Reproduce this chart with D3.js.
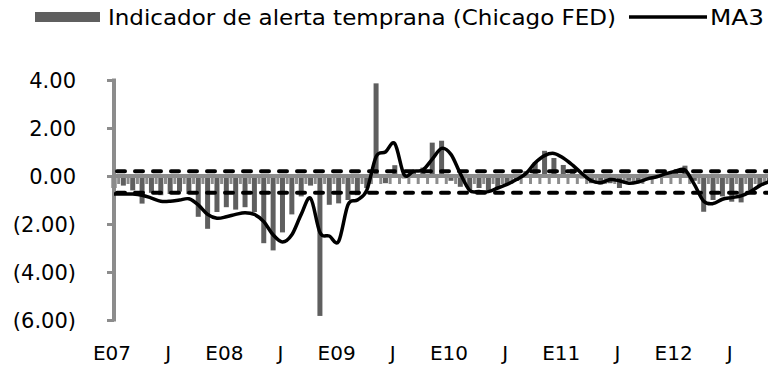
<!DOCTYPE html>
<html><head><meta charset="utf-8">
<script src="https://cdn.jsdelivr.net/npm/d3@7"></script>
<style>html,body{margin:0;padding:0;background:#fff;}svg{display:block;}</style>
</head><body>
<svg id="c" width="768" height="376"></svg>
<script>
const months = ["E07","F07","M07","A07","M07","J07","J07","A07","S07","O07","N07","D07",
"E08","F08","M08","A08","M08","J08","J08","A08","S08","O08","N08","D08",
"E09","F09","M09","A09","M09","J09","J09","A09","S09","O09","N09","D09",
"E10","F10","M10","A10","M10","J10","J10","A10","S10","O10","N10","D10",
"E11","F11","M11","A11","M11","J11","J11","A11","S11","O11","N11","D11",
"E12","F12","M12","A12","M12","J12","J12","A12","S12","O12","N12"];
const tickLabels = ["E07","J","E08","J","E09","J","E10","J","E11","J","E12","J"];
const indicador = [-0.5,-0.4,-0.6,-1.15,-0.7,-0.8,-0.75,-0.65,-0.75,-1.7,-2.2,-1.5,
-1.3,-1.4,-1.3,-1.5,-2.8,-3.1,-2.35,-1.6,-0.85,-0.4,-5.83,-1.2,
-1.14,-1.0,-0.8,-0.5,3.86,-0.3,0.45,-0.1,0.25,0.35,1.39,1.47,
-0.2,-0.45,-0.6,-0.5,-0.6,-0.5,-0.35,-0.2,0.2,0.57,1.05,0.75,
0.46,0.3,-0.1,-0.3,-0.35,-0.3,-0.5,-0.2,-0.3,-0.1,0.0,0.15,
0.25,0.43,-0.2,-1.49,-1.0,-0.85,-1.07,-1.1,-0.6,-0.4,-0.3];
const ma3 = [-0.75,-0.75,-0.75,-0.8,-0.92,-1.05,-1.05,-1.0,-0.95,-1.2,-1.6,-1.76,
-1.7,-1.6,-1.53,-1.6,-1.9,-2.45,-2.75,-2.45,-1.6,-0.93,-2.35,-2.5,
-2.72,-1.2,-1.0,-0.6,0.8,1.0,1.35,0.05,0.2,0.25,0.7,1.15,
0.9,0.1,-0.6,-0.65,-0.65,-0.5,-0.35,-0.15,0.1,0.55,0.85,0.94,
0.75,0.45,0.1,-0.2,-0.28,-0.15,-0.2,-0.3,-0.25,-0.12,-0.03,0.1,
0.2,0.25,-0.35,-1.05,-1.15,-0.97,-0.9,-0.83,-0.65,-0.4,-0.24];
const upperThreshold = 0.2;
const lowerThreshold = -0.7;
const yTicks = [4,2,0,-2,-4,-6];

const svg = d3.select("#c");
const axisColor = "#8c8c8c", barColor = "#5f5f5f";
const FONT = "DejaVu Sans";
const x = d3.scalePoint().domain(d3.range(months.length)).range([114, 114 + 9.36*(months.length-1)]);
const y = d3.scaleLinear().domain([-6,4]).range([320,80]);
const step = x.step();

// bars
svg.append("g").selectAll("rect").data(indicador).join("rect")
  .attr("x",(d,i)=>x(i)-2.5).attr("width",5)
  .attr("y",d=>y(Math.max(0,d))).attr("height",d=>Math.abs(y(d)-y(0)))
  .attr("fill",barColor);

// y axis
const yAxis = d3.axisLeft(y).tickValues(yTicks).tickSize(7)
  .tickFormat(d=> d<0 ? "("+d3.format(".2f")(-d)+")" : d3.format(".2f")(d));
const gy = svg.append("g").attr("transform","translate(114,0)").call(yAxis);
gy.select(".domain").remove();
gy.selectAll(".tick line").attr("stroke",axisColor).attr("stroke-width",3);
gy.selectAll(".tick text").attr("x",-38).attr("dy","0.36em").attr("fill","#000")
  .style("font-family",FONT).style("font-size","21px").attr("text-anchor","end");
svg.append("line").attr("x1",114).attr("x2",114).attr("y1",y(4)-1.5).attr("y2",y(-6)+1.5)
  .attr("stroke",axisColor).attr("stroke-width",4);

// x axis line and ticks between categories
svg.append("line").attr("x1",114).attr("x2",768).attr("y1",y(0)).attr("y2",y(0))
  .attr("stroke",axisColor).attr("stroke-width",4);
svg.append("g").selectAll("line").data(d3.range(months.length)).join("line")
  .attr("x1",i=>x(i)+step/2).attr("x2",i=>x(i)+step/2)
  .attr("y1",y(0)).attr("y2",y(0)+8).attr("stroke",axisColor).attr("stroke-width",3);

// x labels
svg.append("g").selectAll("text").data(tickLabels).join("text")
  .attr("x",(d,k)=>x(k*6)-2).attr("y",360).attr("text-anchor","middle")
  .style("font-family",FONT).style("font-size","20px").text(d=>d);

// threshold dashed lines
[upperThreshold, lowerThreshold].forEach(v=>{
  svg.append("line").attr("x1",117).attr("x2",768).attr("y1",y(v)).attr("y2",y(v))
    .attr("stroke","#000").attr("stroke-width",4).attr("stroke-dasharray","8,10")
    .attr("stroke-linecap","round");
});

// MA3 line
const line = d3.line().x((d,i)=>x(i)).y(d=>y(d)).curve(d3.curveCatmullRom.alpha(0));
svg.append("path").datum(ma3).attr("d",line).attr("fill","none")
  .attr("stroke","#000").attr("stroke-width",3.5);

// legend
svg.append("rect").attr("x",35).attr("y",12).attr("width",65).attr("height",10).attr("fill",barColor);
svg.append("text").attr("x",108).attr("y",25).style("font-family",FONT).style("font-size","21px")
  .attr("textLength",508).attr("lengthAdjust","spacingAndGlyphs")
  .text("Indicador de alerta temprana (Chicago FED)");
svg.append("line").attr("x1",629).attr("x2",707).attr("y1",17).attr("y2",17).attr("stroke","#000").attr("stroke-width",3.5);
svg.append("text").attr("x",710).attr("y",25).style("font-family",FONT).style("font-size","21px")
  .attr("textLength",54).attr("lengthAdjust","spacingAndGlyphs").text("MA3");
</script>
</body></html>
